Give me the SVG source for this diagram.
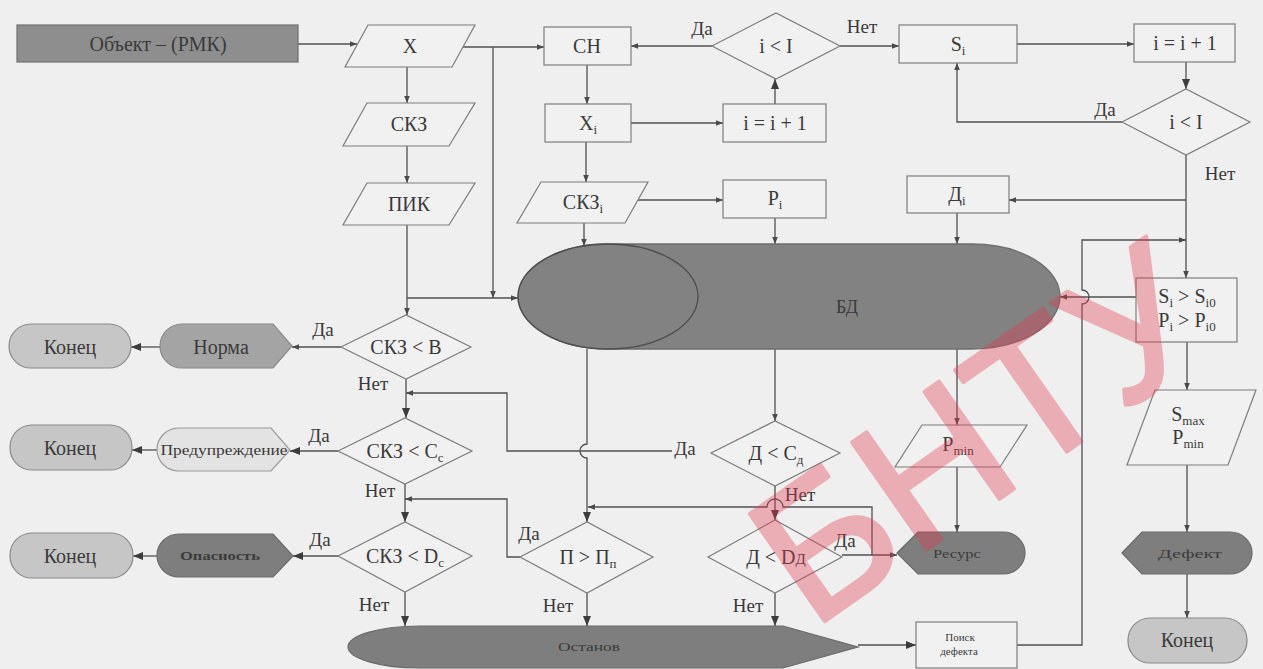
<svg xmlns="http://www.w3.org/2000/svg" width="1263" height="669" viewBox="0 0 1263 669">
  <defs>
    <marker id="a" viewBox="0 0 10 10" refX="10" refY="5" markerWidth="8" markerHeight="7" markerUnits="userSpaceOnUse" orient="auto">
      <path d="M0,1 L10,5 L0,9 Z" fill="#4a4a4a"/>
    </marker>
    <marker id="ab" viewBox="0 0 10 10" refX="10" refY="5" markerWidth="11" markerHeight="10" markerUnits="userSpaceOnUse" orient="auto">
      <path d="M0,1 L10,5 L0,9 Z" fill="#3c3c3c"/>
    </marker>
    <style>
      .box { fill: #f1f1f1; stroke: #7d7d7d; stroke-width: 1.2; }
      .ln { fill: none; stroke: #505050; stroke-width: 1.3; }
      .arr { marker-end: url(#a); }
      .arrb { marker-end: url(#ab); }
      .t { font-family: "Liberation Serif", "Times New Roman", serif; font-size: 20px; fill: #3a3a3a; text-anchor: middle; }
      .lb { font-size: 19px; }
      .sm { font-size: 13px; fill: #3c3c3c; }
      .f11 { font-size: 11px; }
      .f15 { font-size: 15px; }
      .f18 { font-size: 18px; }
      .sub { font-size: 13px; }
      .end { fill: #c6c6c6; stroke: #8a8a8a; stroke-width: 1.2; }
      .dark { fill: #7e7e7e; stroke: #6a6a6a; stroke-width: 1.2; }
      .wm { font-family: "Liberation Sans", Arial, sans-serif; font-size: 190px; fill: #e23a4e; stroke: #e23a4e; stroke-width: 4; stroke-linejoin: round; }
    </style>
  </defs>

  <rect x="0" y="0" width="1263" height="669" fill="#efefef"/>

  <!-- connectors -->
  <g id="connectors">
    <path class="ln arr" d="M298,44 H357"/>
    <path class="ln arr" d="M462,47 H544"/>
    <path class="ln arr" d="M493,47 V298"/>
    <path class="ln arr" d="M407,67 V103"/>
    <path class="ln arr" d="M407,146 V183"/>
    <path class="ln arr" d="M407,225 V315"/>
    <path class="ln arr" d="M407,298 H518"/>
    <path class="ln arr" d="M712,46 H631"/>
    <path class="ln arr" d="M840,46 H899"/>
    <path class="ln arr" d="M587,65 V104"/>
    <path class="ln arr" d="M631,123 H723"/>
    <path class="ln arrb" d="M775,104 V79"/>
    <path class="ln arr" d="M586,142 V182"/>
    <path class="ln arr" d="M638,200 H723"/>
    <path class="ln arr" d="M775,218 V244"/>
    <path class="ln arr" d="M584,223 V246"/>
    <path class="ln arr" d="M1017,44 H1134"/>
    <path class="ln arrb" d="M1186,62 V89"/>
    <path class="ln arr" d="M1122,122 H957 V63"/>
    <path class="ln arr" d="M1186,155 V278"/>
    <path class="ln arr" d="M1186,200 H1009"/>
    <path class="ln arr" d="M957,213 V244"/>
    <path class="ln arr" d="M1017,645 H1082 V304 A7,7 0 0 0 1082,290 V240 H1186"/>
    <path class="ln arr" d="M1136,297 H1060"/>
    <path class="ln arr" d="M1187,342 V390"/>
    <path class="ln arr" d="M1187,465 V532"/>
    <path class="ln arr" d="M1187,574 V618"/>
    <path class="ln arr" d="M341,347 H292"/>
    <path class="ln arrb" d="M160,347 H131"/>
    <path class="ln arrb" d="M406,379 V418"/>
    <path class="ln arrb" d="M338,451 H290"/>
    <path class="ln arrb" d="M157,450 H132"/>
    <path class="ln arrb" d="M405,484 V522"/>
    <path class="ln arrb" d="M338,556 H293"/>
    <path class="ln arrb" d="M157,556 H133"/>
    <path class="ln arrb" d="M405,592 V626"/>
    <path class="ln arr" d="M672,451 H507 V393 H406"/>
    <path class="ln arr" d="M520,557 H507 V499 H405"/>
    <path class="ln arrb" d="M587,349 V444 A7,7 0 0 0 587,458 V522"/>
    <path class="ln arrb" d="M587,593 V626"/>
    <path class="ln arr" d="M775,349 V421"/>
    <path class="ln arrb" d="M775,486 V520"/>
    <path class="ln arr" d="M872,555 V507 H783 A8,8 0 0 0 767,507 H588"/>
    <path class="ln arr" d="M842,555 H897"/>
    <path class="ln arrb" d="M775,593 V626"/>
    <path class="ln arr" d="M957,349 V425"/>
    <path class="ln arr" d="M957,467 V532"/>
    <path class="ln arrb" d="M858,645 H916"/>
  </g>

  <!-- top row: object and input -->
  <g id="obj">
    <rect x="17" y="25" width="281" height="37" fill="#8e8e8e" stroke="#6e6e6e" stroke-width="1.2"/>
    <text class="t" x="158" y="51">Объект – (РМК)</text>
  </g>
  <g id="x">
    <polygon class="box" points="368,25 475,25 452,67 345,67"/>
    <text class="t" x="410" y="53">X</text>
  </g>
  <g id="skz">
    <polygon class="box" points="367,103 475,103 449,146 343,146"/>
    <text class="t" x="409" y="131">СКЗ</text>
  </g>
  <g id="pik">
    <polygon class="box" points="367,183 475,183 449,225 343,225"/>
    <text class="t" x="409" y="211">ПИК</text>
  </g>

  <!-- scan loop -->
  <g id="sn">
    <rect class="box" x="544" y="27" width="87" height="38"/>
    <text class="t" x="587" y="53">СН</text>
  </g>
  <g id="xi">
    <rect class="box" x="545" y="104" width="86" height="38"/>
    <text class="t" x="588" y="130">X<tspan class="sub" dy="4">i</tspan></text>
  </g>
  <g id="inc1">
    <rect class="box" x="723" y="104" width="103" height="38"/>
    <text class="t" x="775" y="130">i = i + 1</text>
  </g>
  <g id="dec1">
    <polygon class="box" points="712,46 776,13 840,46 776,79"/>
    <text class="t" x="776" y="53">i &lt; I</text>
  </g>
  <g id="skzi">
    <polygon class="box" points="541,182 648,182 625,223 517,223"/>
    <text class="t" x="583" y="209">СКЗ<tspan class="sub" dy="4">i</tspan></text>
  </g>
  <g id="pi">
    <rect class="box" x="723" y="180" width="103" height="38"/>
    <text class="t" x="775" y="205">P<tspan class="sub" dy="4">i</tspan></text>
  </g>

  <!-- second loop -->
  <g id="si">
    <rect class="box" x="899" y="25" width="118" height="38"/>
    <text class="t" x="958" y="51">S<tspan class="sub" dy="4">i</tspan></text>
  </g>
  <g id="inc2">
    <rect class="box" x="1134" y="24" width="101" height="38"/>
    <text class="t" x="1185" y="50">i = i + 1</text>
  </g>
  <g id="dec2">
    <polygon class="box" points="1122,122 1186,89 1250,122 1186,155"/>
    <text class="t" x="1186" y="129">i &lt; I</text>
  </g>
  <g id="di">
    <rect class="box" x="907" y="176" width="102" height="37"/>
    <text class="t" x="957" y="201">Д<tspan class="sub" dy="4">i</tspan></text>
  </g>

  <!-- database -->
  <g id="bd">
    <path d="M608,244 H972 A88,52.5 0 0 1 972,349 H608 A90,52.5 0 0 1 608,244 Z" fill="#828282" stroke="#6e6e6e" stroke-width="1.3"/>
    <ellipse cx="608" cy="296.5" rx="90" ry="52.5" fill="none" stroke="#4e4e4e" stroke-width="1.3"/>
    <text class="t f18" x="847" y="313">БД</text>
  </g>

  <!-- right column -->
  <g id="cmp">
    <rect class="box" x="1136" y="278" width="101" height="64"/>
    <text class="t" x="1187" y="303">S<tspan class="sub" dy="4">i</tspan><tspan dy="-4"> &gt; S</tspan><tspan class="sub" dy="4">i0</tspan></text>
    <text class="t" x="1187" y="327">P<tspan class="sub" dy="4">i</tspan><tspan dy="-4"> &gt; P</tspan><tspan class="sub" dy="4">i0</tspan></text>
  </g>
  <g id="smax">
    <polygon class="box" points="1155,390 1256,390 1228,465 1127,465"/>
    <text class="t" x="1188" y="421">S<tspan class="sub" dy="4">max</tspan></text>
    <text class="t" x="1188" y="444">P<tspan class="sub" dy="4">min</tspan></text>
  </g>
  <g id="defect">
    <path class="dark" d="M1122,553 L1142,532 H1230 A22,21 0 0 1 1230,574 H1142 Z"/>
    <text class="t sm" x="1190" y="558" textLength="64" lengthAdjust="spacingAndGlyphs">Дефект</text>
  </g>
  <g id="end4">
    <rect class="end" x="1128" y="618" width="119" height="45" rx="22"/>
    <text class="t" x="1187" y="647">Конец</text>
  </g>
  <g id="pmin">
    <polygon class="box" points="922,425 1027,425 1000,467 895,467"/>
    <text class="t" x="958" y="451">P<tspan class="sub" dy="4">min</tspan></text>
  </g>
  <g id="resurs">
    <path class="dark" d="M897,553 L918,532 H1003 A22,21 0 0 1 1003,574 H918 Z"/>
    <text class="t sm" x="957" y="558" textLength="48" lengthAdjust="spacingAndGlyphs">Ресурс</text>
  </g>
  <g id="search">
    <rect class="box" x="916" y="622" width="101" height="46"/>
    <text class="t f11" x="960" y="641">Поиск</text>
    <text class="t f11" x="959" y="655">дефекта</text>
  </g>

  <!-- decision column -->
  <g id="dB">
    <polygon class="box" points="341,347 406,315 471,347 406,379"/>
    <text class="t" x="406" y="354">СКЗ &lt; В</text>
  </g>
  <g id="dC">
    <polygon class="box" points="338,451 405,418 472,451 405,484"/>
    <text class="t" x="405" y="458">СКЗ &lt; С<tspan class="sub" dy="4">с</tspan></text>
  </g>
  <g id="dD">
    <polygon class="box" points="338,556 405,522 472,556 405,592"/>
    <text class="t" x="405" y="563">СКЗ &lt; D<tspan class="sub" dy="4">с</tspan></text>
  </g>
  <g id="dP">
    <polygon class="box" points="520,557 587,522 653,557 587,593"/>
    <text class="t" x="588" y="564">П &gt; П<tspan class="sub" dy="4">п</tspan></text>
  </g>
  <g id="dDC">
    <polygon class="box" points="711,453 775,421 840,453 775,486"/>
    <text class="t" x="776" y="460">Д &lt; С<tspan class="sub" dy="4">д</tspan></text>
  </g>
  <g id="dDD">
    <polygon class="box" points="708,557 775,520 842,557 775,593"/>
    <text class="t" x="776" y="564">Д &lt; D<tspan class="f15">Д</tspan></text>
  </g>

  <!-- outcomes -->
  <g id="norma">
    <path d="M182,324 H273 L292,346 L273,368 H182 A22,22 0 0 1 182,324 Z" fill="#a4a4a4" stroke="#8a8a8a" stroke-width="1.2"/>
    <text class="t" x="221" y="354">Норма</text>
  </g>
  <g id="end1">
    <rect class="end" x="9" y="324" width="122" height="44" rx="22"/>
    <text class="t" x="70" y="354">Конец</text>
  </g>
  <g id="warn">
    <path d="M179,428 H271 L290,450 L271,471 H179 A22,21.5 0 0 1 179,428 Z" fill="#e3e3e3" stroke="#9a9a9a" stroke-width="1.2"/>
    <text class="t f15" x="224" y="455" textLength="127" lengthAdjust="spacingAndGlyphs">Предупреждение</text>
  </g>
  <g id="end2">
    <rect class="end" x="10" y="425" width="122" height="45" rx="22"/>
    <text class="t" x="70" y="455">Конец</text>
  </g>
  <g id="danger">
    <path class="dark" d="M179,534 H273 L293,556 L273,577 H179 A22,21.5 0 0 1 179,534 Z"/>
    <text class="t sm" x="220" y="560" font-weight="bold" textLength="80" lengthAdjust="spacingAndGlyphs">Опасность</text>
  </g>
  <g id="end3">
    <rect class="end" x="10" y="533" width="123" height="45" rx="22"/>
    <text class="t" x="70" y="563">Конец</text>
  </g>
  <g id="stop">
    <path class="dark" d="M420,626 H783 L858,647 L783,668 H420 A72,21 0 0 1 420,626 Z"/>
    <text class="t sm" x="589" y="651" textLength="62" lengthAdjust="spacingAndGlyphs">Останов</text>
  </g>

  <!-- branch labels -->
  <g id="labels" class="t lb">
    <text x="702" y="35">Да</text>
    <text x="862" y="33">Нет</text>
    <text x="1105" y="116">Да</text>
    <text x="1220" y="180">Нет</text>
    <text x="323" y="336">Да</text>
    <text x="373" y="390">Нет</text>
    <text x="319" y="442">Да</text>
    <text x="380" y="497">Нет</text>
    <text x="320" y="546">Да</text>
    <text x="374" y="611">Нет</text>
    <text x="529" y="540">Да</text>
    <text x="558" y="612">Нет</text>
    <text x="685" y="455">Да</text>
    <text x="800" y="501">Нет</text>
    <text x="748" y="612">Нет</text>
    <text x="845" y="547">Да</text>
  </g>

  <!-- watermark -->
  <g opacity="0.36">
    <text class="wm" transform="translate(812,630) rotate(-35)">БНТУ</text>
  </g>
</svg>
